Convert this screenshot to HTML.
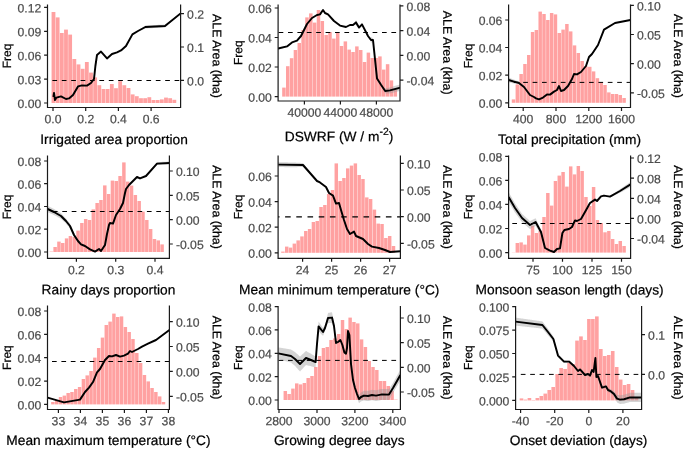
<!DOCTYPE html>
<html lang="en">
<head>
<meta charset="utf-8">
<title>ALE plots</title>
<style>
html,body{margin:0;padding:0;background:#fff;}
body{width:685px;height:450px;overflow:hidden;}
svg{display:block;}
</style>
</head>
<body>
<svg width="685" height="450" viewBox="0 0 685 450" font-family="'Liberation Sans', sans-serif">
<rect x="0" y="0" width="685" height="450" fill="#fff"/>
<g>
<clipPath id="c0"><rect x="47.5" y="4.4" width="133.1" height="103.1"/></clipPath>
<g fill="#FFA1A1">
<rect x="51.57" y="12" width="3.82" height="91"/>
<rect x="55.74" y="17.4" width="3.82" height="85.6"/>
<rect x="59.91" y="33" width="3.82" height="70"/>
<rect x="64.08" y="29.6" width="3.82" height="73.4"/>
<rect x="68.24" y="34.6" width="3.82" height="68.4"/>
<rect x="72.41" y="59" width="3.82" height="44"/>
<rect x="76.58" y="64.4" width="3.82" height="38.6"/>
<rect x="80.74" y="68.8" width="3.82" height="34.2"/>
<rect x="84.91" y="62" width="3.82" height="41"/>
<rect x="89.08" y="72.6" width="3.82" height="30.4"/>
<rect x="93.24" y="77.4" width="3.82" height="25.6"/>
<rect x="97.41" y="85.2" width="3.82" height="17.8"/>
<rect x="101.58" y="89" width="3.82" height="14"/>
<rect x="105.74" y="89" width="3.82" height="14"/>
<rect x="109.91" y="84" width="3.82" height="19"/>
<rect x="114.08" y="88.2" width="3.82" height="14.8"/>
<rect x="118.24" y="81.2" width="3.82" height="21.8"/>
<rect x="122.41" y="85.2" width="3.82" height="17.8"/>
<rect x="126.58" y="88" width="3.82" height="15"/>
<rect x="130.74" y="94.4" width="3.82" height="8.6"/>
<rect x="134.91" y="96.2" width="3.82" height="6.8"/>
<rect x="139.08" y="98.2" width="3.82" height="4.8"/>
<rect x="143.24" y="98.2" width="3.82" height="4.8"/>
<rect x="147.41" y="97.2" width="3.82" height="5.8"/>
<rect x="151.58" y="100" width="3.82" height="3"/>
<rect x="155.74" y="100" width="3.82" height="3"/>
<rect x="159.91" y="99.4" width="3.82" height="3.6"/>
<rect x="164.08" y="97.6" width="3.82" height="5.4"/>
<rect x="168.24" y="98.2" width="3.82" height="4.8"/>
<rect x="172.41" y="99.8" width="3.82" height="3.2"/>
</g>
<polygon clip-path="url(#c0)" fill="#999999" fill-opacity="0.42" points="138,30.5 138.5,30.17 139,29.83 139.5,29.5 140,29.17 140.5,28.84 141,28.5 141.5,28.17 142,27.84 142.5,27.51 143,27.17 143.5,26.84 144,26.51 144.5,26.17 145,25.84 145.5,25.56 146,25.47 146.5,25.44 147,25.42 147.5,25.39 148,25.37 148.5,25.34 149,25.32 149.5,25.29 150,25.27 150.5,25.24 151,25.21 151.5,25.19 152,25.16 152.5,25.14 153,25.11 153.5,25.09 154,25.06 154.5,25.04 155,25.01 155.5,24.98 156,24.96 156.5,24.93 157,24.91 157.5,24.88 158,24.86 158.5,24.83 159,24.81 159.5,24.78 160,24.76 160.5,24.73 161,24.7 161.5,24.68 162,24.65 162.5,24.63 163,24.6 163.5,24.58 164,24.55 164.5,24.53 165,24.5 165.5,24.13 166,23.76 166.5,23.4 167,23.03 167.5,22.66 168,22.29 168.5,21.92 169,21.55 169.5,21.19 170,20.82 170.5,20.45 171,20.08 171.5,19.71 172,19.35 172.5,18.94 173,18.54 173.5,18.13 174,17.73 174.5,17.33 175,16.92 175.5,16.52 176,16.12 176.5,15.71 177,15.31 177.5,14.9 178,14.5 178.5,14.1 179,13.69 179.5,13.29 180,12.88 180.5,12.48 180.5,14.48 180,14.88 179.5,15.29 179,15.69 178.5,16.1 178,16.5 177.5,16.9 177,17.31 176.5,17.71 176,18.12 175.5,18.52 175,18.92 174.5,19.33 174,19.73 173.5,20.13 173,20.54 172.5,20.94 172,21.35 171.5,21.79 171,22.23 170.5,22.66 170,23.1 169.5,23.54 169,23.98 168.5,24.42 168,24.86 167.5,25.3 167,25.74 166.5,26.18 166,26.62 165.5,27.06 165,27.5 164.5,27.53 164,27.55 163.5,27.58 163,27.6 162.5,27.63 162,27.65 161.5,27.68 161,27.7 160.5,27.73 160,27.76 159.5,27.78 159,27.81 158.5,27.83 158,27.86 157.5,27.88 157,27.91 156.5,27.93 156,27.96 155.5,27.98 155,28.01 154.5,28.04 154,28.06 153.5,28.09 153,28.11 152.5,28.14 152,28.16 151.5,28.19 151,28.21 150.5,28.24 150,28.27 149.5,28.29 149,28.32 148.5,28.34 148,28.37 147.5,28.39 147,28.42 146.5,28.44 146,28.47 145.5,28.43 145,28.59 144.5,28.8 144,29.01 143.5,29.21 143,29.42 142.5,29.63 142,29.84 141.5,30.05 141,30.25 140.5,30.46 140,30.67 139.5,30.88 139,31.08 138.5,31.29 138,31.5"/>
<line x1="52.4" y1="80.5" x2="180.6" y2="80.5" stroke="#000" stroke-width="1.0" stroke-dasharray="4.7 4.7"/>
<polyline clip-path="url(#c0)" fill="none" stroke="#000" stroke-width="1.95" stroke-linejoin="round" stroke-linecap="butt" points="53.4,97 54,93 55,100 56.4,97.6 61,96.4 66,99 69,98.4 73,95 78,86.4 82,85.4 87,85.6 91,83 94,79 95.4,66 97,55 101,51.6 107,58.4 112,54 117,52.4 121,50.4 126,46 132.4,34.4 138,31 145.4,27 165,26 180.6,13.4"/>
<g stroke="#1a1a1a" stroke-width="1.2" fill="none">
<path d="M47.5 4.4 V107.5 H180.6 V4.4"/>
<path d="M44.1 7.4H47.5M44.1 31.3H47.5M44.1 55.2H47.5M44.1 79.1H47.5M44.1 103H47.5M180.6 13.6H184M180.6 47H184M180.6 80.4H184M53 107.5V110.9M85.7 107.5V110.9M118.4 107.5V110.9M151.1 107.5V110.9"/>
</g>
<g fill="#4D4D4D" stroke="#4D4D4D" stroke-width="0.22" font-size="12.2">
<text transform="translate(41.3 12.47) matrix(1 0.0005 0 1 0 0)" text-anchor="end">0.12</text>
<text transform="translate(41.3 36.37) matrix(1 0.0005 0 1 0 0)" text-anchor="end">0.09</text>
<text transform="translate(41.3 60.27) matrix(1 0.0005 0 1 0 0)" text-anchor="end">0.06</text>
<text transform="translate(41.3 84.17) matrix(1 0.0005 0 1 0 0)" text-anchor="end">0.03</text>
<text transform="translate(41.3 108.07) matrix(1 0.0005 0 1 0 0)" text-anchor="end">0.00</text>
<text transform="translate(187.1 18.67) matrix(1 0.0005 0 1 0 0)">0.2</text>
<text transform="translate(187.1 52.07) matrix(1 0.0005 0 1 0 0)">0.1</text>
<text transform="translate(187.1 85.47) matrix(1 0.0005 0 1 0 0)">0.0</text>
<text transform="translate(53 123.25) matrix(1 0.0005 0 1 0 0)" text-anchor="middle">0.0</text>
<text transform="translate(85.7 123.25) matrix(1 0.0005 0 1 0 0)" text-anchor="middle">0.2</text>
<text transform="translate(118.4 123.25) matrix(1 0.0005 0 1 0 0)" text-anchor="middle">0.4</text>
<text transform="translate(151.1 123.25) matrix(1 0.0005 0 1 0 0)" text-anchor="middle">0.6</text>
</g>
<text transform="translate(114.05 144.1) matrix(1 0.0005 0 1 0 0)" text-anchor="middle" font-size="13.75" fill="#000" stroke="#000" stroke-width="0.22">Irrigated area proportion</text>
<text transform="translate(11 55.95) rotate(-90) matrix(1 0.0005 0 1 0 0)" text-anchor="middle" font-size="12.0" fill="#000" stroke="#000" stroke-width="0.22">Freq</text>
<text transform="translate(212.8 55.95) rotate(90) matrix(1 0.0005 0 1 0 0)" text-anchor="middle" font-size="12.35" fill="#000" stroke="#000" stroke-width="0.22">ALE Area (kha)</text>
</g>
<g>
<clipPath id="c1"><rect x="278.1" y="4.4" width="121.9" height="96.6"/></clipPath>
<g fill="#FFA1A1">
<rect x="282.18" y="87.6" width="3.49" height="9"/>
<rect x="286.01" y="66.2" width="3.49" height="30.4"/>
<rect x="289.86" y="58.2" width="3.49" height="38.4"/>
<rect x="293.69" y="50" width="3.49" height="46.6"/>
<rect x="297.54" y="43" width="3.49" height="53.6"/>
<rect x="301.38" y="30" width="3.49" height="66.6"/>
<rect x="305.22" y="17.4" width="3.49" height="79.2"/>
<rect x="309.06" y="13.4" width="3.49" height="83.2"/>
<rect x="312.89" y="22.6" width="3.49" height="74"/>
<rect x="316.74" y="10" width="3.49" height="86.6"/>
<rect x="320.57" y="21" width="3.49" height="75.6"/>
<rect x="324.42" y="35" width="3.49" height="61.6"/>
<rect x="328.25" y="32" width="3.49" height="64.6"/>
<rect x="332.1" y="38.6" width="3.49" height="58"/>
<rect x="335.94" y="33" width="3.49" height="63.6"/>
<rect x="339.78" y="46" width="3.49" height="50.6"/>
<rect x="343.62" y="41.4" width="3.49" height="55.2"/>
<rect x="347.45" y="49.6" width="3.49" height="47"/>
<rect x="351.3" y="52" width="3.49" height="44.6"/>
<rect x="355.13" y="46.4" width="3.49" height="50.2"/>
<rect x="358.97" y="50" width="3.49" height="46.6"/>
<rect x="362.81" y="62" width="3.49" height="34.6"/>
<rect x="366.66" y="52.6" width="3.49" height="44"/>
<rect x="370.5" y="58" width="3.49" height="38.6"/>
<rect x="374.33" y="58" width="3.49" height="38.6"/>
<rect x="378.18" y="56.4" width="3.49" height="40.2"/>
<rect x="382.01" y="69.6" width="3.49" height="27"/>
<rect x="385.85" y="64.2" width="3.49" height="32.4"/>
<rect x="389.69" y="80.4" width="3.49" height="16.2"/>
<rect x="393.54" y="90" width="3.49" height="6.6"/>
</g>
<polygon clip-path="url(#c1)" fill="#999999" fill-opacity="0.42" points="278.1,47.38 278.6,47.27 279.1,47.17 279.6,47.07 280.1,46.97 280.6,46.87 281.1,46.77 281.6,46.67 282.1,46.57 282.6,46.47 283.1,46.37 283.6,46.27 284.1,46.17 284.6,46.07 285.1,45.97 285.6,45.87 286.1,45.77 286.6,45.66 287.1,45.51 287.6,45.13 288.1,44.75 288.6,44.37 289.1,43.99 289.6,43.62 290.1,43.24 290.6,42.86 291.1,42.48 291.6,42.1 291.6,43.34 291.1,43.76 290.6,44.18 290.1,44.6 289.6,45.02 289.1,45.45 288.6,45.87 288.1,46.29 287.6,46.71 287.1,47.13 286.6,47.33 286.1,47.47 285.6,47.62 285.1,47.76 284.6,47.91 284.1,48.05 283.6,48.19 283.1,48.34 282.6,48.48 282.1,48.63 281.6,48.77 281.1,48.91 280.6,49.06 280.1,49.2 279.6,49.34 279.1,49.49 278.6,49.63 278.1,49.78"/>
<polygon clip-path="url(#c1)" fill="#999999" fill-opacity="0.42" points="353.5,24.07 354,23.28 354.5,22.5 355,21.72 355.5,20.93 356,20.15 356.5,20.67 357,21.88 357.5,23.1 358,24.32 358.5,25.53 359,26.75 359.5,26.57 359.5,27.57 359,28.45 358.5,27.93 358,27.42 357.5,26.9 357,26.38 356.5,25.87 356,24.65 355.5,24.73 355,24.82 354.5,24.9 354,24.98 353.5,25.07"/>
<polygon clip-path="url(#c1)" fill="#999999" fill-opacity="0.42" points="368.5,36.17 369,36.45 369.5,36.73 370,37.02 370.5,37.3 371,37.58 371.5,37.2 372,37.64 372.5,38.08 373,38.52 373.5,43.76 374,49 374,50.2 373.5,45.84 373,41.48 372.5,41.92 372,42.36 371.5,42.8 371,42.42 370.5,41.37 370,40.32 369.5,39.27 369,38.22 368.5,37.17"/>
<polygon clip-path="url(#c1)" fill="#999999" fill-opacity="0.42" points="381,84.3 381.5,84.83 382,85.36 382.5,85.88 383,86.41 383.5,86.94 384,87.47 384.5,88 385,88.52 385.5,88.57 386,88.3 386.5,88.19 387,88.08 387.5,87.96 388,87.85 388.5,87.74 389,87.62 389.5,87.51 390,87.4 390.5,87.22 391,87.03 391.5,86.85 392,86.66 392.5,86.53 393,86.39 393.5,86.26 394,86.12 394.5,85.99 395,85.85 395.5,85.72 396,85.58 396.5,85.45 397,85.32 397.5,85.18 398,85.05 398.5,84.91 399,84.78 399.5,84.64 400,84.51 400,90.91 399.5,91.04 399,91.18 398.5,91.31 398,91.45 397.5,91.58 397,91.72 396.5,91.85 396,91.98 395.5,92.12 395,92.25 394.5,92.39 394,92.52 393.5,92.66 393,92.79 392.5,92.93 392,93.06 391.5,93.15 391,93.23 390.5,93.32 390,93.4 389.5,93.41 389,93.43 388.5,93.44 388,93.45 387.5,93.46 387,93.48 386.5,93.49 386,93.5 385.5,93.35 385,92.88 384.5,91.94 384,90.99 383.5,90.04 383,89.09 382.5,88.14 382,87.2 381.5,86.25 381,85.3"/>
<line x1="278.6" y1="32.5" x2="400" y2="32.5" stroke="#000" stroke-width="1.0" stroke-dasharray="4.7 4.7"/>
<polyline clip-path="url(#c1)" fill="none" stroke="#000" stroke-width="1.95" stroke-linejoin="round" stroke-linecap="butt" points="278,48.6 287,46.4 292,42.4 297,40.6 301,36 307,24 312,18 317,15 320,14.4 323,10 325,13 328,14.4 334,21 340,25.6 346,27 350,25 353,25 356,22.4 359,27.6 362,24.4 368,36 371,40 373,40 377,78.4 381,84.8 385.2,91 390,90.4 400.4,87.6"/>
<g stroke="#1a1a1a" stroke-width="1.2" fill="none">
<path d="M278.1 4.4 V101 H400 V4.4"/>
<path d="M274.7 8H278.1M274.7 37.5H278.1M274.7 67H278.1M274.7 96.6H278.1M400 5.9H403.4M400 30.7H403.4M400 55.4H403.4M400 80.1H403.4M304.4 101V104.4M340.4 101V104.4M376.4 101V104.4"/>
</g>
<g fill="#4D4D4D" stroke="#4D4D4D" stroke-width="0.22" font-size="12.2">
<text transform="translate(271.9 13.07) matrix(1 0.0005 0 1 0 0)" text-anchor="end">0.06</text>
<text transform="translate(271.9 42.57) matrix(1 0.0005 0 1 0 0)" text-anchor="end">0.04</text>
<text transform="translate(271.9 72.07) matrix(1 0.0005 0 1 0 0)" text-anchor="end">0.02</text>
<text transform="translate(271.9 101.67) matrix(1 0.0005 0 1 0 0)" text-anchor="end">0.00</text>
<text transform="translate(406.5 10.97) matrix(1 0.0005 0 1 0 0)">0.08</text>
<text transform="translate(406.5 35.77) matrix(1 0.0005 0 1 0 0)">0.04</text>
<text transform="translate(406.5 60.47) matrix(1 0.0005 0 1 0 0)">0.00</text>
<text transform="translate(406.5 85.17) matrix(1 0.0005 0 1 0 0)">-0.04</text>
<text transform="translate(304.4 116.75) matrix(1 0.0005 0 1 0 0)" text-anchor="middle">40000</text>
<text transform="translate(340.4 116.75) matrix(1 0.0005 0 1 0 0)" text-anchor="middle">44000</text>
<text transform="translate(376.4 116.75) matrix(1 0.0005 0 1 0 0)" text-anchor="middle">48000</text>
</g>
<text transform="translate(339.05 141.3) matrix(1 0.0005 0 1 0 0)" text-anchor="middle" font-size="13.75" fill="#000" stroke="#000" stroke-width="0.22">DSWRF (W / m<tspan font-size="10.45" dy="-6.3">-2</tspan><tspan dy="6.3">)</tspan></text>
<text transform="translate(242.3 52.7) rotate(-90) matrix(1 0.0005 0 1 0 0)" text-anchor="middle" font-size="12.0" fill="#000" stroke="#000" stroke-width="0.22">Freq</text>
<text transform="translate(443.3 52.7) rotate(90) matrix(1 0.0005 0 1 0 0)" text-anchor="middle" font-size="12.35" fill="#000" stroke="#000" stroke-width="0.22">ALE Area (kha)</text>
</g>
<g>
<clipPath id="c2"><rect x="508.6" y="4.4" width="121.9" height="103.1"/></clipPath>
<g fill="#FFA1A1">
<rect x="511.78" y="99.4" width="3.46" height="3.4"/>
<rect x="515.59" y="84.4" width="3.46" height="18.4"/>
<rect x="519.4" y="74" width="3.46" height="28.8"/>
<rect x="523.21" y="64" width="3.46" height="38.8"/>
<rect x="527.03" y="55" width="3.46" height="47.8"/>
<rect x="530.84" y="32" width="3.46" height="70.8"/>
<rect x="534.65" y="30" width="3.46" height="72.8"/>
<rect x="538.47" y="11.6" width="3.46" height="91.2"/>
<rect x="542.28" y="14" width="3.46" height="88.8"/>
<rect x="546.1" y="20" width="3.46" height="82.8"/>
<rect x="549.91" y="13" width="3.46" height="89.8"/>
<rect x="553.72" y="14.4" width="3.46" height="88.4"/>
<rect x="557.53" y="33" width="3.46" height="69.8"/>
<rect x="561.35" y="29.6" width="3.46" height="73.2"/>
<rect x="565.16" y="24" width="3.46" height="78.8"/>
<rect x="568.97" y="31.4" width="3.46" height="71.4"/>
<rect x="572.79" y="45.4" width="3.46" height="57.4"/>
<rect x="576.6" y="53" width="3.46" height="49.8"/>
<rect x="580.41" y="61" width="3.46" height="41.8"/>
<rect x="584.23" y="66.4" width="3.46" height="36.4"/>
<rect x="588.04" y="66.8" width="3.46" height="36"/>
<rect x="591.86" y="71.4" width="3.46" height="31.4"/>
<rect x="595.67" y="78.2" width="3.46" height="24.6"/>
<rect x="599.48" y="82" width="3.46" height="20.8"/>
<rect x="603.29" y="85" width="3.46" height="17.8"/>
<rect x="607.11" y="92.4" width="3.46" height="10.4"/>
<rect x="610.92" y="94" width="3.46" height="8.8"/>
<rect x="614.73" y="94" width="3.46" height="8.8"/>
<rect x="618.55" y="95" width="3.46" height="7.8"/>
<rect x="622.36" y="98" width="3.46" height="4.8"/>
</g>
<polygon clip-path="url(#c2)" fill="#999999" fill-opacity="0.42" points="508.6,77.6 509.1,77.79 509.6,77.98 510.1,78.17 510.6,78.35 511.1,78.54 511.6,78.73 512.1,78.92 512.6,79.11 513.1,79.3 513.6,79.49 514.1,79.67 514.6,79.85 515.1,80.04 515.6,80.22 516.1,80.4 516.6,80.63 517.1,80.85 517.6,81.07 518.1,81.29 518.6,81.51 519.1,81.78 519.6,82.27 520.1,82.75 520.6,83.23 521.1,83.71 521.6,84.19 522.1,84.67 522.6,85.15 523.1,85.63 523.6,86.12 523.6,87.25 523.1,86.93 522.6,86.61 522.1,86.29 521.6,85.97 521.1,85.65 520.6,85.33 520.1,85.01 519.6,84.7 519.1,84.38 518.6,84.27 518.1,84.21 517.6,84.15 517.1,84.09 516.6,84.03 516.1,83.97 515.6,83.88 515.1,83.78 514.6,83.68 514.1,83.58 513.6,83.48 513.1,83.37 512.6,83.26 512.1,83.15 511.6,83.05 511.1,82.94 510.6,82.83 510.1,82.72 509.6,82.62 509.1,82.51 508.6,82.4"/>
<line x1="513.8" y1="82.4" x2="630.5" y2="82.4" stroke="#000" stroke-width="1.0" stroke-dasharray="4.7 4.7"/>
<polyline clip-path="url(#c2)" fill="none" stroke="#000" stroke-width="1.95" stroke-linejoin="round" stroke-linecap="butt" points="508.6,80 514,81.6 519,83 524,87 530,95 534,97 536,98.4 539,99.4 543,97.6 547,94.4 550,94.6 554,91.6 557,90 559,86 561,91 564,90 568,86 572,79 574,74 577,74.4 581,72 586,66 589,57 592,54 598,45 604,29.6 615,23 630.4,20"/>
<g stroke="#1a1a1a" stroke-width="1.2" fill="none">
<path d="M508.6 4.4 V107.5 H630.5 V4.4"/>
<path d="M505.2 20H508.6M505.2 47.5H508.6M505.2 75.1H508.6M505.2 102.8H508.6M630.5 5.4H633.9M630.5 34.5H633.9M630.5 63.6H633.9M630.5 92.8H633.9M523.2 107.5V110.9M556 107.5V110.9M588.8 107.5V110.9M621.5 107.5V110.9"/>
</g>
<g fill="#4D4D4D" stroke="#4D4D4D" stroke-width="0.22" font-size="12.2">
<text transform="translate(502.4 25.07) matrix(1 0.0005 0 1 0 0)" text-anchor="end">0.06</text>
<text transform="translate(502.4 52.57) matrix(1 0.0005 0 1 0 0)" text-anchor="end">0.04</text>
<text transform="translate(502.4 80.17) matrix(1 0.0005 0 1 0 0)" text-anchor="end">0.02</text>
<text transform="translate(502.4 107.87) matrix(1 0.0005 0 1 0 0)" text-anchor="end">0.00</text>
<text transform="translate(637 10.47) matrix(1 0.0005 0 1 0 0)">0.10</text>
<text transform="translate(637 39.57) matrix(1 0.0005 0 1 0 0)">0.05</text>
<text transform="translate(637 68.67) matrix(1 0.0005 0 1 0 0)">0.00</text>
<text transform="translate(637 97.87) matrix(1 0.0005 0 1 0 0)">-0.05</text>
<text transform="translate(523.2 123.25) matrix(1 0.0005 0 1 0 0)" text-anchor="middle">400</text>
<text transform="translate(556 123.25) matrix(1 0.0005 0 1 0 0)" text-anchor="middle">800</text>
<text transform="translate(588.8 123.25) matrix(1 0.0005 0 1 0 0)" text-anchor="middle">1200</text>
<text transform="translate(621.5 123.25) matrix(1 0.0005 0 1 0 0)" text-anchor="middle">1600</text>
</g>
<text transform="translate(569.55 144.1) matrix(1 0.0005 0 1 0 0)" text-anchor="middle" font-size="13.75" fill="#000" stroke="#000" stroke-width="0.22">Total precipitation (mm)</text>
<text transform="translate(472.3 55.95) rotate(-90) matrix(1 0.0005 0 1 0 0)" text-anchor="middle" font-size="12.0" fill="#000" stroke="#000" stroke-width="0.22">Freq</text>
<text transform="translate(674 55.95) rotate(90) matrix(1 0.0005 0 1 0 0)" text-anchor="middle" font-size="12.35" fill="#000" stroke="#000" stroke-width="0.22">ALE Area (kha)</text>
</g>
<g>
<clipPath id="c3"><rect x="47.5" y="155.6" width="121.9" height="102.8"/></clipPath>
<g fill="#FFA1A1">
<rect x="49.57" y="251.6" width="3.47" height="0.4"/>
<rect x="53.39" y="247" width="3.47" height="5"/>
<rect x="57.21" y="241.6" width="3.47" height="10.4"/>
<rect x="61.03" y="243" width="3.47" height="9"/>
<rect x="64.85" y="238.4" width="3.47" height="13.6"/>
<rect x="68.67" y="236" width="3.47" height="16"/>
<rect x="72.49" y="237" width="3.47" height="15"/>
<rect x="76.31" y="230.6" width="3.47" height="21.4"/>
<rect x="80.13" y="223" width="3.47" height="29"/>
<rect x="83.95" y="219" width="3.47" height="33"/>
<rect x="87.77" y="220" width="3.47" height="32"/>
<rect x="91.59" y="209.4" width="3.47" height="42.6"/>
<rect x="95.41" y="203" width="3.47" height="49"/>
<rect x="99.23" y="200" width="3.47" height="52"/>
<rect x="103.05" y="185.4" width="3.47" height="66.6"/>
<rect x="106.87" y="194" width="3.47" height="58"/>
<rect x="110.69" y="180.6" width="3.47" height="71.4"/>
<rect x="114.52" y="181" width="3.47" height="71"/>
<rect x="118.33" y="176" width="3.47" height="76"/>
<rect x="122.15" y="162.4" width="3.47" height="89.6"/>
<rect x="125.97" y="181.6" width="3.47" height="70.4"/>
<rect x="129.8" y="185.6" width="3.47" height="66.4"/>
<rect x="133.62" y="195" width="3.47" height="57"/>
<rect x="137.44" y="201" width="3.47" height="51"/>
<rect x="141.25" y="211.6" width="3.47" height="40.4"/>
<rect x="145.08" y="220" width="3.47" height="32"/>
<rect x="148.9" y="229" width="3.47" height="23"/>
<rect x="152.72" y="239" width="3.47" height="13"/>
<rect x="156.53" y="240.4" width="3.47" height="11.6"/>
<rect x="160.36" y="244.4" width="3.47" height="7.6"/>
</g>
<polygon clip-path="url(#c3)" fill="#999999" fill-opacity="0.42" points="47.5,205.8 48,206 48.5,206.25 49,206.5 49.5,206.75 50,207 50.5,207.26 51,207.51 51.5,207.76 52,208.01 52.5,208.26 53,208.51 53.5,208.76 54,209.01 54.5,209.31 55,209.61 55.5,209.91 56,210.21 56.5,210.52 57,210.82 57.5,211.12 58,211.42 58.5,211.72 59,212.03 59.5,212.33 60,212.63 60.5,212.93 61,213.24 61.5,213.76 62,214.28 62.5,214.8 63,215.32 63.5,215.84 64,216.36 64.5,216.88 65,217.4 65.5,217.92 66,218.44 66.5,219.09 67,219.73 67.5,220.38 68,221.02 68.5,221.66 69,222.31 69.5,222.96 70,223.6 70.5,224.78 71,225.95 71.5,227.12 72,228.3 72.5,229.47 73,230.65 73.5,231.82 74,233 74.5,233.8 75,234.6 75.5,235.4 76,236.2 76.5,237 77,237.8 77.5,238.6 78,239.4 78.5,240.04 79,240.67 79.5,241.31 80,241.94 80.5,242.58 81,243.21 81.5,243.48 82,243.75 82.5,244.02 83,244.29 83.5,244.56 84,244.82 84.5,245.09 85,245.36 85.5,245.77 86,246.18 86,247.18 85.5,246.91 85,246.64 84.5,246.51 84,246.38 83.5,246.24 83,246.11 82.5,245.98 82,245.85 81.5,245.72 81,245.59 80.5,245.09 80,244.59 79.5,244.09 79,243.6 78.5,243.1 78,242.6 77.5,241.9 77,241.2 76.5,240.5 76,239.8 75.5,239.1 75,238.4 74.5,237.7 74,237 73.5,235.93 73,234.85 72.5,233.78 72,232.7 71.5,231.62 71,230.55 70.5,229.47 70,228.4 69.5,227.79 69,227.19 68.5,226.59 68,225.98 67.5,225.38 67,224.77 66.5,224.16 66,223.56 65.5,223.08 65,222.6 64.5,222.12 64,221.64 63.5,221.16 63,220.68 62.5,220.2 62,219.72 61.5,219.24 61,218.76 60.5,218.49 60,218.23 59.5,217.96 59,217.69 58.5,217.42 58,217.15 57.5,216.88 57,216.61 56.5,216.34 56,216.07 55.5,215.8 55,215.53 54.5,215.26 54,214.99 53.5,214.77 53,214.56 52.5,214.34 52,214.12 51.5,213.9 51,213.68 50.5,213.46 50,213.25 49.5,213.03 49,212.81 48.5,212.59 48,212.37 47.5,212.2"/>
<polygon clip-path="url(#c3)" fill="#999999" fill-opacity="0.42" points="148,173.15 148.5,172.54 149,171.93 149.5,171.32 150,170.71 150.5,170.1 151,169.49 151.5,168.89 152,168.28 152.5,167.67 153,167.06 153.5,166.45 154,165.84 154.5,165.23 155,164.62 155.5,164.02 156,163.41 156.5,162.8 157,162.19 157.5,162.12 158,162.05 158.5,162.03 159,162 159.5,161.98 160,161.95 160.5,161.93 161,161.91 161.5,161.88 162,161.86 162.5,161.83 163,161.81 163.5,161.79 164,161.76 164.5,161.74 165,161.71 165.5,161.69 166,161.66 166.5,161.64 167,161.62 167.5,161.59 168,161.57 168.5,161.54 169,161.52 169,164.52 168.5,164.54 168,164.57 167.5,164.59 167,164.62 166.5,164.64 166,164.66 165.5,164.69 165,164.71 164.5,164.74 164,164.76 163.5,164.79 163,164.81 162.5,164.83 162,164.86 161.5,164.88 161,164.91 160.5,164.93 160,164.95 159.5,164.98 159,165 158.5,165.03 158,165.05 157.5,165.03 157,165.01 156.5,165.53 156,166.05 155.5,166.57 155,167.08 154.5,167.6 154,168.12 153.5,168.64 153,169.16 152.5,169.68 152,170.2 151.5,170.72 151,171.23 150.5,171.75 150,172.27 149.5,172.79 149,173.31 148.5,173.83 148,174.35"/>
<line x1="52.9" y1="211.5" x2="169.4" y2="211.5" stroke="#000" stroke-width="1.0" stroke-dasharray="4.7 4.7"/>
<polyline clip-path="url(#c3)" fill="none" stroke="#000" stroke-width="1.95" stroke-linejoin="round" stroke-linecap="butt" points="47.6,209 54,212 61,216 66,221 70,226 74,235 78,241 81,244.4 85,246 90,249.4 95,251.6 99,249 101,251 105,245 107,234 109,225 110,223 113,223.6 116,215 120,209 123,203 125,193 126,189 129,185 137,177 140,178.4 146,176 157,163.6 169.4,163"/>
<g stroke="#1a1a1a" stroke-width="1.2" fill="none">
<path d="M47.5 155.6 V258.4 H169.4 V155.6"/>
<path d="M44.1 161H47.5M44.1 183.7H47.5M44.1 206.5H47.5M44.1 229.2H47.5M44.1 252H47.5M169.4 171H172.8M169.4 195.4H172.8M169.4 219.7H172.8M169.4 244H172.8M76.4 258.4V261.8M115.7 258.4V261.8M155 258.4V261.8"/>
</g>
<g fill="#4D4D4D" stroke="#4D4D4D" stroke-width="0.22" font-size="12.2">
<text transform="translate(41.3 166.07) matrix(1 0.0005 0 1 0 0)" text-anchor="end">0.08</text>
<text transform="translate(41.3 188.77) matrix(1 0.0005 0 1 0 0)" text-anchor="end">0.06</text>
<text transform="translate(41.3 211.57) matrix(1 0.0005 0 1 0 0)" text-anchor="end">0.04</text>
<text transform="translate(41.3 234.27) matrix(1 0.0005 0 1 0 0)" text-anchor="end">0.02</text>
<text transform="translate(41.3 257.07) matrix(1 0.0005 0 1 0 0)" text-anchor="end">0.00</text>
<text transform="translate(175.9 176.07) matrix(1 0.0005 0 1 0 0)">0.10</text>
<text transform="translate(175.9 200.47) matrix(1 0.0005 0 1 0 0)">0.05</text>
<text transform="translate(175.9 224.77) matrix(1 0.0005 0 1 0 0)">0.00</text>
<text transform="translate(175.9 249.07) matrix(1 0.0005 0 1 0 0)">-0.05</text>
<text transform="translate(76.4 274.15) matrix(1 0.0005 0 1 0 0)" text-anchor="middle">0.2</text>
<text transform="translate(115.7 274.15) matrix(1 0.0005 0 1 0 0)" text-anchor="middle">0.3</text>
<text transform="translate(155 274.15) matrix(1 0.0005 0 1 0 0)" text-anchor="middle">0.4</text>
</g>
<text transform="translate(108.45 294.4) matrix(1 0.0005 0 1 0 0)" text-anchor="middle" font-size="13.75" fill="#000" stroke="#000" stroke-width="0.22">Rainy days proportion</text>
<text transform="translate(11 207) rotate(-90) matrix(1 0.0005 0 1 0 0)" text-anchor="middle" font-size="12.0" fill="#000" stroke="#000" stroke-width="0.22">Freq</text>
<text transform="translate(212.8 207) rotate(90) matrix(1 0.0005 0 1 0 0)" text-anchor="middle" font-size="12.35" fill="#000" stroke="#000" stroke-width="0.22">ALE Area (kha)</text>
</g>
<g>
<clipPath id="c4"><rect x="278.1" y="155.6" width="122.3" height="102.8"/></clipPath>
<g fill="#FFA1A1">
<rect x="281.18" y="251.6" width="3.46" height="1.2"/>
<rect x="284.99" y="246.6" width="3.46" height="6.2"/>
<rect x="288.8" y="247.6" width="3.46" height="5.2"/>
<rect x="292.62" y="243.6" width="3.46" height="9.2"/>
<rect x="296.43" y="240.4" width="3.46" height="12.4"/>
<rect x="300.24" y="236.4" width="3.46" height="16.4"/>
<rect x="304.06" y="231" width="3.46" height="21.8"/>
<rect x="307.87" y="229" width="3.46" height="23.8"/>
<rect x="311.68" y="222" width="3.46" height="30.8"/>
<rect x="315.5" y="221" width="3.46" height="31.8"/>
<rect x="319.31" y="207" width="3.46" height="45.8"/>
<rect x="323.12" y="205" width="3.46" height="47.8"/>
<rect x="326.94" y="194" width="3.46" height="58.8"/>
<rect x="330.75" y="190" width="3.46" height="62.8"/>
<rect x="334.56" y="163.4" width="3.46" height="89.4"/>
<rect x="338.38" y="181" width="3.46" height="71.8"/>
<rect x="342.19" y="178" width="3.46" height="74.8"/>
<rect x="346" y="168.4" width="3.46" height="84.4"/>
<rect x="349.81" y="165.6" width="3.46" height="87.2"/>
<rect x="353.63" y="163.4" width="3.46" height="89.4"/>
<rect x="357.44" y="175" width="3.46" height="77.8"/>
<rect x="361.25" y="179" width="3.46" height="73.8"/>
<rect x="365.07" y="197.4" width="3.46" height="55.4"/>
<rect x="368.88" y="199" width="3.46" height="53.8"/>
<rect x="372.69" y="209.6" width="3.46" height="43.2"/>
<rect x="376.51" y="223.6" width="3.46" height="29.2"/>
<rect x="380.32" y="224" width="3.46" height="28.8"/>
<rect x="384.13" y="238" width="3.46" height="14.8"/>
<rect x="387.95" y="236" width="3.46" height="16.8"/>
<rect x="391.76" y="246" width="3.46" height="6.8"/>
</g>
<polygon clip-path="url(#c4)" fill="#999999" fill-opacity="0.42" points="278.1,162.1 278.6,162.11 279.1,162.13 279.6,162.14 280.1,162.15 280.6,162.17 281.1,162.18 281.6,162.2 282.1,162.21 282.6,162.22 283.1,162.24 283.6,162.25 284.1,162.27 284.6,162.28 285.1,162.29 285.6,162.31 286.1,162.32 286.6,162.34 287.1,162.35 287.6,162.36 288.1,162.38 288.6,162.39 289.1,162.41 289.6,162.42 290.1,162.43 290.6,162.45 291.1,162.46 291.6,162.48 292.1,162.49 292.6,162.5 293.1,162.52 293.6,162.53 294.1,162.55 294.6,162.56 295.1,162.58 295.6,162.6 296.1,162.63 296.6,162.66 297.1,162.68 297.6,162.71 298.1,162.74 298.6,162.76 299.1,162.79 299.6,162.82 300.1,162.84 300.6,162.87 301.1,162.9 301.6,162.92 302.1,162.95 302.6,162.98 303.1,163.13 303.6,163.79 304.1,164.44 304.6,165.1 305.1,165.75 305.6,166.4 306.1,167.06 306.6,167.71 307.1,168.37 307.6,169.02 308.1,169.68 308.6,170.33 309.1,170.99 309.6,171.64 310.1,172.3 310.6,172.95 311.1,173.61 311.6,174.26 311.6,175.4 311.1,174.91 310.6,174.42 310.1,173.93 309.6,173.44 309.1,172.95 308.6,172.47 308.1,171.98 307.6,171.49 307.1,171 306.6,170.51 306.1,170.03 305.6,169.54 305.1,169.05 304.6,168.56 304.1,168.07 303.6,167.59 303.1,167.1 302.6,167.01 302.1,167.02 301.6,167.03 301.1,167.04 300.6,167.05 300.1,167.06 299.6,167.07 299.1,167.08 298.6,167.09 298.1,167.1 297.6,167.12 297.1,167.13 296.6,167.14 296.1,167.15 295.6,167.16 295.1,167.17 294.6,167.17 294.1,167.17 293.6,167.16 293.1,167.16 292.6,167.16 292.1,167.16 291.6,167.16 291.1,167.15 290.6,167.15 290.1,167.15 289.6,167.15 289.1,167.15 288.6,167.14 288.1,167.14 287.6,167.14 287.1,167.14 286.6,167.13 286.1,167.13 285.6,167.13 285.1,167.13 284.6,167.13 284.1,167.12 283.6,167.12 283.1,167.12 282.6,167.12 282.1,167.12 281.6,167.11 281.1,167.11 280.6,167.11 280.1,167.11 279.6,167.1 279.1,167.1 278.6,167.1 278.1,167.1"/>
<line clip-path="url(#c4)" x1="273.9" y1="216.9" x2="400.4" y2="216.9" stroke="#000" stroke-width="1.25" stroke-dasharray="5.6 5.6"/>
<polyline clip-path="url(#c4)" fill="none" stroke="#000" stroke-width="1.95" stroke-linejoin="round" stroke-linecap="butt" points="278.2,164.6 303,165 310,173 317,181 320,182.4 326,187 329,193 333,195.6 336,203.6 339,203 341,210 344,220 347,229 350,234 354,231.6 356,236 363,239 368,244 372,246.6 379,248 385,250 390,252 400.4,251.2"/>
<g stroke="#1a1a1a" stroke-width="1.2" fill="none">
<path d="M278.1 155.6 V258.4 H400.4 V155.6"/>
<path d="M274.7 176H278.1M274.7 201.6H278.1M274.7 227.2H278.1M274.7 252.8H278.1M400.4 163.4H403.8M400.4 190H403.8M400.4 216.6H403.8M400.4 243.4H403.8M302.6 258.4V261.8M331.6 258.4V261.8M360.6 258.4V261.8M389.6 258.4V261.8"/>
</g>
<g fill="#4D4D4D" stroke="#4D4D4D" stroke-width="0.22" font-size="12.2">
<text transform="translate(271.9 181.07) matrix(1 0.0005 0 1 0 0)" text-anchor="end">0.06</text>
<text transform="translate(271.9 206.67) matrix(1 0.0005 0 1 0 0)" text-anchor="end">0.04</text>
<text transform="translate(271.9 232.27) matrix(1 0.0005 0 1 0 0)" text-anchor="end">0.02</text>
<text transform="translate(271.9 257.87) matrix(1 0.0005 0 1 0 0)" text-anchor="end">0.00</text>
<text transform="translate(406.9 168.47) matrix(1 0.0005 0 1 0 0)">0.10</text>
<text transform="translate(406.9 195.07) matrix(1 0.0005 0 1 0 0)">0.05</text>
<text transform="translate(406.9 221.67) matrix(1 0.0005 0 1 0 0)">0.00</text>
<text transform="translate(406.9 248.47) matrix(1 0.0005 0 1 0 0)">-0.05</text>
<text transform="translate(302.6 274.15) matrix(1 0.0005 0 1 0 0)" text-anchor="middle">24</text>
<text transform="translate(331.6 274.15) matrix(1 0.0005 0 1 0 0)" text-anchor="middle">25</text>
<text transform="translate(360.6 274.15) matrix(1 0.0005 0 1 0 0)" text-anchor="middle">26</text>
<text transform="translate(389.6 274.15) matrix(1 0.0005 0 1 0 0)" text-anchor="middle">27</text>
</g>
<text transform="translate(339.25 294.4) matrix(1 0.0005 0 1 0 0)" text-anchor="middle" font-size="13.75" fill="#000" stroke="#000" stroke-width="0.22">Mean minimum temperature (°C)</text>
<text transform="translate(242.3 207) rotate(-90) matrix(1 0.0005 0 1 0 0)" text-anchor="middle" font-size="12.0" fill="#000" stroke="#000" stroke-width="0.22">Freq</text>
<text transform="translate(443.3 207) rotate(90) matrix(1 0.0005 0 1 0 0)" text-anchor="middle" font-size="12.35" fill="#000" stroke="#000" stroke-width="0.22">ALE Area (kha)</text>
</g>
<g>
<clipPath id="c5"><rect x="508.6" y="155.6" width="122" height="102.8"/></clipPath>
<g fill="#FFA1A1">
<rect x="511.78" y="252.4" width="3.46" height="0.2"/>
<rect x="515.59" y="243" width="3.46" height="9.6"/>
<rect x="519.4" y="242.4" width="3.46" height="10.2"/>
<rect x="523.21" y="244.6" width="3.46" height="8"/>
<rect x="527.03" y="235.4" width="3.46" height="17.2"/>
<rect x="530.84" y="225.6" width="3.46" height="27"/>
<rect x="534.65" y="233" width="3.46" height="19.6"/>
<rect x="538.47" y="230.7" width="3.46" height="21.9"/>
<rect x="542.28" y="217" width="3.46" height="35.6"/>
<rect x="546.1" y="193" width="3.46" height="59.6"/>
<rect x="549.91" y="205.6" width="3.46" height="47"/>
<rect x="553.72" y="181" width="3.46" height="71.6"/>
<rect x="557.53" y="175.6" width="3.46" height="77"/>
<rect x="561.35" y="172" width="3.46" height="80.6"/>
<rect x="565.16" y="186.6" width="3.46" height="66"/>
<rect x="568.97" y="166.4" width="3.46" height="86.2"/>
<rect x="572.79" y="174.4" width="3.46" height="78.2"/>
<rect x="576.6" y="166" width="3.46" height="86.6"/>
<rect x="580.41" y="171" width="3.46" height="81.6"/>
<rect x="584.23" y="197" width="3.46" height="55.6"/>
<rect x="588.04" y="206" width="3.46" height="46.6"/>
<rect x="591.86" y="187" width="3.46" height="65.6"/>
<rect x="595.67" y="220" width="3.46" height="32.6"/>
<rect x="599.48" y="223" width="3.46" height="29.6"/>
<rect x="603.29" y="232.3" width="3.46" height="20.3"/>
<rect x="607.11" y="231" width="3.46" height="21.6"/>
<rect x="610.92" y="239" width="3.46" height="13.6"/>
<rect x="614.73" y="244" width="3.46" height="8.6"/>
<rect x="618.55" y="241" width="3.46" height="11.6"/>
<rect x="622.36" y="246" width="3.46" height="6.6"/>
</g>
<polygon clip-path="url(#c5)" fill="#999999" fill-opacity="0.42" points="508.6,192 509.1,192.89 509.6,193.79 510.1,194.68 510.6,195.58 511.1,196.47 511.6,197.37 512.1,198.26 512.6,199.16 513.1,200.05 513.6,200.94 514.1,201.84 514.6,202.73 515.1,203.6 515.6,204.35 516.1,205.1 516.6,205.85 517.1,206.6 517.6,207.35 518.1,208.1 518.6,208.84 519.1,209.59 519.6,210.34 520.1,211.09 520.6,211.81 521.1,212.54 521.6,213.26 522.1,213.93 522.6,214.38 523.1,214.82 523.6,215.27 524.1,215.72 524.6,216.17 525.1,216.61 525.6,217.06 526.1,217.51 526.6,217.96 527.1,218.4 527.6,218.85 528.1,219.3 528.6,219.75 529.1,220.19 529.6,220.64 530.1,220.95 530.6,220.7 531.1,220.45 531.6,220.2 532.1,219.94 532.6,219.69 533.1,219.44 533.6,219.19 534.1,218.94 534.6,218.69 535.1,218.44 535.6,218.19 536.1,219.16 536.6,220.27 537.1,221.37 537.6,222.48 538.1,223.59 538.6,224.69 539.1,225.8 539.6,226.9 540.1,228.01 540.6,229.12 541.1,230.43 541.6,232.58 542.1,234.73 542.6,236.88 543.1,239.03 543.6,241.18 544.1,243.33 544.6,245.48 545.1,247.28 545.6,247.69 545.6,248.93 545.1,248.82 544.6,247.32 544.1,245.47 543.6,243.62 543.1,241.77 542.6,239.92 542.1,238.07 541.6,236.22 541.1,234.37 540.6,233.4 540.1,232.66 539.6,231.91 539.1,231.17 538.6,230.42 538.1,229.67 537.6,228.93 537.1,228.18 536.6,227.44 536.1,226.69 535.6,225.81 535.1,226.1 534.6,226.38 534.1,226.67 533.6,226.95 533.1,227.24 532.6,227.52 532.1,227.81 531.6,228.09 531.1,228.37 530.6,228.66 530.1,228.94 529.6,228.66 529.1,228.23 528.6,227.8 528.1,227.38 527.6,226.95 527.1,226.52 526.6,226.09 526.1,225.67 525.6,225.24 525.1,224.81 524.6,224.38 524.1,223.96 523.6,223.53 523.1,223.1 522.6,222.67 522.1,222.25 521.6,221.6 521.1,220.89 520.6,220.19 520.1,219.48 519.6,218.8 519.1,218.12 518.6,217.44 518.1,216.76 517.6,216.08 517.1,215.4 516.6,214.72 516.1,214.05 515.6,213.37 515.1,212.69 514.6,211.89 514.1,211.07 513.6,210.24 513.1,209.42 512.6,208.59 512.1,207.77 511.6,206.95 511.1,206.12 510.6,205.3 510.1,204.47 509.6,203.65 509.1,202.82 508.6,202"/>
<polygon clip-path="url(#c5)" fill="#999999" fill-opacity="0.42" points="608,195.77 608.5,195.8 609,195.83 609.5,195.85 610,195.88 610.5,195.55 611,195.22 611.5,194.88 612,194.55 612.5,194.21 613,193.88 613.5,193.54 614,193.21 614.5,192.88 615,192.54 615.5,192.21 616,191.87 616.5,191.54 617,191.21 617.5,190.87 618,190.54 618.5,190.2 619,189.87 619.5,189.53 620,189.2 620.5,188.85 621,188.5 621.5,188.15 622,187.8 622.5,187.45 623,187.11 623.5,186.76 624,186.41 624.5,186.06 625,185.71 625.5,185.36 626,185.01 626.5,184.66 627,184.31 627.5,183.96 628,183.62 628.5,183.27 629,182.92 629.5,182.57 630,182.22 630.5,181.87 630.5,187.05 630,187.33 629.5,187.6 629,187.88 628.5,188.15 628,188.42 627.5,188.7 627,188.97 626.5,189.24 626,189.52 625.5,189.79 625,190.06 624.5,190.34 624,190.61 623.5,190.88 623,191.16 622.5,191.43 622,191.71 621.5,191.98 621,192.25 620.5,192.53 620,192.8 619.5,193.03 619,193.25 618.5,193.48 618,193.7 617.5,193.93 617,194.16 616.5,194.38 616,194.61 615.5,194.83 615,195.06 614.5,195.28 614,195.51 613.5,195.74 613,195.96 612.5,196.19 612,196.41 611.5,196.64 611,196.86 610.5,197.09 610,197.32 609.5,197.18 609,197.04 608.5,196.9 608,196.77"/>
<line x1="512.3" y1="223.5" x2="630.6" y2="223.5" stroke="#000" stroke-width="1.0" stroke-dasharray="4.7 4.7"/>
<polyline clip-path="url(#c5)" fill="none" stroke="#000" stroke-width="1.95" stroke-linejoin="round" stroke-linecap="butt" points="508.6,197 515,208 522,218 530,225 535.6,222 541,232 545,248 550,250.6 554,252 557,249 560,248.4 562.4,233 564.4,230 569,229 572,227 575,220.4 577,221 581,219 585,212 590,203 595,199.6 597,201 601,196.4 604,195.6 610,196.6 620,191 630.6,184.4"/>
<g stroke="#1a1a1a" stroke-width="1.2" fill="none">
<path d="M508.6 155.6 V258.4 H630.6 V155.6"/>
<path d="M505.2 156.4H508.6M505.2 180.4H508.6M505.2 204.4H508.6M505.2 228.5H508.6M505.2 252.6H508.6M630.6 158H634M630.6 178.2H634M630.6 198.3H634M630.6 218.4H634M630.6 238.5H634M533 258.4V261.8M562.5 258.4V261.8M592 258.4V261.8M621.5 258.4V261.8"/>
</g>
<g fill="#4D4D4D" stroke="#4D4D4D" stroke-width="0.22" font-size="12.2">
<text transform="translate(502.4 161.47) matrix(1 0.0005 0 1 0 0)" text-anchor="end">0.08</text>
<text transform="translate(502.4 185.47) matrix(1 0.0005 0 1 0 0)" text-anchor="end">0.06</text>
<text transform="translate(502.4 209.47) matrix(1 0.0005 0 1 0 0)" text-anchor="end">0.04</text>
<text transform="translate(502.4 233.57) matrix(1 0.0005 0 1 0 0)" text-anchor="end">0.02</text>
<text transform="translate(502.4 257.67) matrix(1 0.0005 0 1 0 0)" text-anchor="end">0.00</text>
<text transform="translate(637.1 163.07) matrix(1 0.0005 0 1 0 0)">0.12</text>
<text transform="translate(637.1 183.27) matrix(1 0.0005 0 1 0 0)">0.08</text>
<text transform="translate(637.1 203.37) matrix(1 0.0005 0 1 0 0)">0.04</text>
<text transform="translate(637.1 223.47) matrix(1 0.0005 0 1 0 0)">0.00</text>
<text transform="translate(637.1 243.57) matrix(1 0.0005 0 1 0 0)">-0.04</text>
<text transform="translate(533 274.15) matrix(1 0.0005 0 1 0 0)" text-anchor="middle">75</text>
<text transform="translate(562.5 274.15) matrix(1 0.0005 0 1 0 0)" text-anchor="middle">100</text>
<text transform="translate(592 274.15) matrix(1 0.0005 0 1 0 0)" text-anchor="middle">125</text>
<text transform="translate(621.5 274.15) matrix(1 0.0005 0 1 0 0)" text-anchor="middle">150</text>
</g>
<text transform="translate(569.6 294.4) matrix(1 0.0005 0 1 0 0)" text-anchor="middle" font-size="13.75" fill="#000" stroke="#000" stroke-width="0.22">Monsoon season length (days)</text>
<text transform="translate(472.3 207) rotate(-90) matrix(1 0.0005 0 1 0 0)" text-anchor="middle" font-size="12.0" fill="#000" stroke="#000" stroke-width="0.22">Freq</text>
<text transform="translate(674 207) rotate(90) matrix(1 0.0005 0 1 0 0)" text-anchor="middle" font-size="12.35" fill="#000" stroke="#000" stroke-width="0.22">ALE Area (kha)</text>
</g>
<g>
<clipPath id="c6"><rect x="47.5" y="305.6" width="121.9" height="103.9"/></clipPath>
<g fill="#FFA1A1">
<rect x="51.17" y="402" width="3.46" height="2.4"/>
<rect x="54.99" y="400" width="3.46" height="4.4"/>
<rect x="58.8" y="397" width="3.46" height="7.4"/>
<rect x="62.61" y="395.6" width="3.46" height="8.8"/>
<rect x="66.43" y="393" width="3.46" height="11.4"/>
<rect x="70.24" y="392" width="3.46" height="12.4"/>
<rect x="74.05" y="389" width="3.46" height="15.4"/>
<rect x="77.87" y="387" width="3.46" height="17.4"/>
<rect x="81.68" y="379" width="3.46" height="25.4"/>
<rect x="85.49" y="375.4" width="3.46" height="29"/>
<rect x="89.31" y="371" width="3.46" height="33.4"/>
<rect x="93.12" y="357.6" width="3.46" height="46.8"/>
<rect x="96.94" y="348" width="3.46" height="56.4"/>
<rect x="100.75" y="337.6" width="3.46" height="66.8"/>
<rect x="104.56" y="325" width="3.46" height="79.4"/>
<rect x="108.38" y="321.6" width="3.46" height="82.8"/>
<rect x="112.19" y="313.6" width="3.46" height="90.8"/>
<rect x="116" y="317" width="3.46" height="87.4"/>
<rect x="119.81" y="316.4" width="3.46" height="88"/>
<rect x="123.63" y="327" width="3.46" height="77.4"/>
<rect x="127.44" y="332" width="3.46" height="72.4"/>
<rect x="131.25" y="339" width="3.46" height="65.4"/>
<rect x="135.07" y="353" width="3.46" height="51.4"/>
<rect x="138.88" y="363" width="3.46" height="41.4"/>
<rect x="142.7" y="375" width="3.46" height="29.4"/>
<rect x="146.51" y="381.4" width="3.46" height="23"/>
<rect x="150.32" y="388" width="3.46" height="16.4"/>
<rect x="154.14" y="392" width="3.46" height="12.4"/>
<rect x="157.95" y="396.4" width="3.46" height="8"/>
<rect x="161.76" y="402" width="3.46" height="2.4"/>
</g>
<line x1="52" y1="361.5" x2="169.4" y2="361.5" stroke="#000" stroke-width="1.0" stroke-dasharray="4.7 4.7"/>
<polyline clip-path="url(#c6)" fill="none" stroke="#000" stroke-width="1.95" stroke-linejoin="round" stroke-linecap="butt" points="47.6,397.6 64,402.4 80,399.6 85,392 89,387.6 93,382 97,372.4 100,369 105,360 109,356 112,356.4 116,355 120,356.6 124,355.6 128,353.6 130,351 132,352 138,349 142,346.6 148,343.6 156,340 169.4,330"/>
<g stroke="#1a1a1a" stroke-width="1.2" fill="none">
<path d="M47.5 305.6 V409.5 H169.4 V305.6"/>
<path d="M44.1 311H47.5M44.1 334.35H47.5M44.1 357.7H47.5M44.1 381.05H47.5M44.1 404.4H47.5M169.4 321.6H172.8M169.4 346.5H172.8M169.4 371.4H172.8M169.4 396.3H172.8M58.4 409.5V412.9M80.4 409.5V412.9M102.4 409.5V412.9M124.4 409.5V412.9M146.4 409.5V412.9M168.4 409.5V412.9"/>
</g>
<g fill="#4D4D4D" stroke="#4D4D4D" stroke-width="0.22" font-size="12.2">
<text transform="translate(41.3 316.07) matrix(1 0.0005 0 1 0 0)" text-anchor="end">0.08</text>
<text transform="translate(41.3 339.42) matrix(1 0.0005 0 1 0 0)" text-anchor="end">0.06</text>
<text transform="translate(41.3 362.77) matrix(1 0.0005 0 1 0 0)" text-anchor="end">0.04</text>
<text transform="translate(41.3 386.12) matrix(1 0.0005 0 1 0 0)" text-anchor="end">0.02</text>
<text transform="translate(41.3 409.47) matrix(1 0.0005 0 1 0 0)" text-anchor="end">0.00</text>
<text transform="translate(175.9 326.67) matrix(1 0.0005 0 1 0 0)">0.10</text>
<text transform="translate(175.9 351.57) matrix(1 0.0005 0 1 0 0)">0.05</text>
<text transform="translate(175.9 376.47) matrix(1 0.0005 0 1 0 0)">0.00</text>
<text transform="translate(175.9 401.37) matrix(1 0.0005 0 1 0 0)">-0.05</text>
<text transform="translate(58.4 425.25) matrix(1 0.0005 0 1 0 0)" text-anchor="middle">33</text>
<text transform="translate(80.4 425.25) matrix(1 0.0005 0 1 0 0)" text-anchor="middle">34</text>
<text transform="translate(102.4 425.25) matrix(1 0.0005 0 1 0 0)" text-anchor="middle">35</text>
<text transform="translate(124.4 425.25) matrix(1 0.0005 0 1 0 0)" text-anchor="middle">36</text>
<text transform="translate(146.4 425.25) matrix(1 0.0005 0 1 0 0)" text-anchor="middle">37</text>
<text transform="translate(168.4 425.25) matrix(1 0.0005 0 1 0 0)" text-anchor="middle">38</text>
</g>
<text transform="translate(108.45 445) matrix(1 0.0005 0 1 0 0)" text-anchor="middle" font-size="13.75" fill="#000" stroke="#000" stroke-width="0.22">Mean maximum temperature (°C)</text>
<text transform="translate(11 357.55) rotate(-90) matrix(1 0.0005 0 1 0 0)" text-anchor="middle" font-size="12.0" fill="#000" stroke="#000" stroke-width="0.22">Freq</text>
<text transform="translate(212.8 357.55) rotate(90) matrix(1 0.0005 0 1 0 0)" text-anchor="middle" font-size="12.35" fill="#000" stroke="#000" stroke-width="0.22">ALE Area (kha)</text>
</g>
<g>
<clipPath id="c7"><rect x="278.1" y="306" width="122.3" height="103.5"/></clipPath>
<g fill="#FFA1A1">
<rect x="283.57" y="391" width="3.46" height="9"/>
<rect x="287.39" y="394" width="3.46" height="6"/>
<rect x="291.2" y="388.6" width="3.46" height="11.4"/>
<rect x="295.01" y="383.4" width="3.46" height="16.6"/>
<rect x="298.83" y="384.4" width="3.46" height="15.6"/>
<rect x="302.64" y="383" width="3.46" height="17"/>
<rect x="306.45" y="378" width="3.46" height="22"/>
<rect x="310.27" y="376" width="3.46" height="24"/>
<rect x="314.08" y="367" width="3.46" height="33"/>
<rect x="317.89" y="356" width="3.46" height="44"/>
<rect x="321.71" y="348" width="3.46" height="52"/>
<rect x="325.52" y="347" width="3.46" height="53"/>
<rect x="329.33" y="340" width="3.46" height="60"/>
<rect x="333.15" y="338.4" width="3.46" height="61.6"/>
<rect x="336.96" y="334" width="3.46" height="66"/>
<rect x="340.78" y="320" width="3.46" height="80"/>
<rect x="344.59" y="329" width="3.46" height="71"/>
<rect x="348.4" y="317.6" width="3.46" height="82.4"/>
<rect x="352.21" y="322" width="3.46" height="78"/>
<rect x="356.03" y="323.4" width="3.46" height="76.6"/>
<rect x="359.84" y="339.4" width="3.46" height="60.6"/>
<rect x="363.66" y="347" width="3.46" height="53"/>
<rect x="367.47" y="361" width="3.46" height="39"/>
<rect x="371.28" y="367" width="3.46" height="33"/>
<rect x="375.1" y="370" width="3.46" height="30"/>
<rect x="378.91" y="381" width="3.46" height="19"/>
<rect x="382.72" y="381" width="3.46" height="19"/>
<rect x="386.54" y="386" width="3.46" height="14"/>
<rect x="390.35" y="391" width="3.46" height="9"/>
<rect x="394.16" y="399.6" width="3.46" height="0.4"/>
</g>
<polygon clip-path="url(#c7)" fill="#999999" fill-opacity="0.42" points="278.1,347.4 278.6,347.46 279.1,347.54 279.6,347.63 280.1,347.71 280.6,347.79 281.1,347.87 281.6,347.95 282.1,348.04 282.6,348.12 283.1,348.2 283.6,348.28 284.1,348.37 284.6,348.45 285.1,348.53 285.6,348.61 286.1,348.69 286.6,348.78 287.1,348.86 287.6,348.94 288.1,349.02 288.6,349.11 289.1,349.19 289.6,349.27 290.1,349.35 290.6,349.43 291.1,349.56 291.6,349.88 292.1,350.2 292.6,350.52 293.1,350.84 293.6,351.16 294.1,351.48 294.6,351.8 295.1,352.14 295.6,352.59 296.1,353.03 296.6,353.48 297.1,353.92 297.6,354.37 298.1,354.81 298.6,355.26 299.1,355.7 299.6,356.14 300.1,356.41 300.6,355.95 301.1,355.49 301.6,355.03 302.1,354.57 302.6,354.12 303.1,353.66 303.6,353.2 304.1,352.74 304.6,352.28 305.1,351.82 305.6,351.37 306.1,351.06 306.6,351.33 307.1,351.61 307.6,351.89 308.1,352.17 308.6,352.45 309.1,352.73 309.6,353.01 310.1,353.29 310.6,353.57 311.1,353.85 311.6,354.15 312.1,354.44 312.6,354.74 313.1,355.03 313.6,355.33 314.1,355.63 314.6,355.92 315.1,356.22 315.6,356.67 316.1,351.07 316.6,345.48 317.1,339.77 317.6,333.6 318.1,327.43 318.6,321.42 319.1,322.17 319.6,322.92 320.1,323.66 320.6,324.41 321.1,325.16 321.6,325.91 322.1,326.65 322.6,327.4 323.1,327.85 323.6,327.1 324.1,326.35 324.6,325.6 325.1,324.72 325.6,323.3 326.1,321.71 326.6,319.42 327.1,317.12 327.6,314.83 328.1,312.98 328.6,312.87 329.1,312.75 329.6,312.64 330.1,312.53 330.6,312.42 331.1,312.3 331.6,312.19 332.1,312.64 332.6,315.32 333.1,318 333.6,320.69 334.1,323.8 334.6,328.63 335.1,333.38 335.6,337.8 336.1,341.32 336.6,341.23 337.1,341.15 337.6,341.07 338.1,340.92 338.6,340.5 339.1,340.08 339.6,339.67 340.1,339.25 340.6,339.5 341.1,340.75 341.6,342 342.1,343.25 342.6,344.74 343.1,346.59 343.6,348.44 344.1,350.29 344.6,351.55 345.1,351.93 345.6,352.3 346.1,352.04 346.6,349.24 347.1,345.3 347.6,336.8 348.1,330.29 348.6,331.71 349.1,333.14 349.6,337.63 349.6,339.63 349.1,335.14 348.6,333.71 348.1,332.29 347.6,338.8 347.1,347.3 346.6,351.24 346.1,354.04 345.6,354.3 345.1,353.93 344.6,353.55 344.1,352.29 343.6,350.44 343.1,348.59 342.6,346.74 342.1,345.25 341.6,344 341.1,342.75 340.6,341.5 340.1,341.25 339.6,341.67 339.1,342.08 338.6,342.5 338.1,342.92 337.6,343.33 337.1,343.75 336.6,344.17 336.1,344.58 335.6,341.4 335.1,337.32 334.6,333.57 334.1,329.9 333.6,327.95 333.1,326.44 332.6,324.92 332.1,323.4 331.6,323.09 331.1,323.08 330.6,323.06 330.1,323.05 329.6,323.04 329.1,323.03 328.6,323.01 328.1,323 327.6,323.83 327.1,324.88 326.6,325.92 326.1,326.96 325.6,328.7 325.1,330.62 324.6,332 324.1,333.25 323.6,334.5 323.1,335.75 322.6,335.58 322.1,335.05 321.6,334.53 321.1,334 320.6,333.48 320.1,332.95 319.6,332.43 319.1,331.9 318.6,331.38 318.1,336.37 317.6,341.2 317.1,346.03 316.6,352.81 316.1,360.07 315.6,367.33 315.1,367.35 314.6,367.21 314.1,367.07 313.6,366.93 313.1,366.79 312.6,366.65 312.1,366.52 311.6,366.38 311.1,366.24 310.6,366.11 310.1,365.99 309.6,365.87 309.1,365.75 308.6,365.63 308.1,365.51 307.6,365.39 307.1,365.27 306.6,365.15 306.1,365.02 305.6,365.43 305.1,365.97 304.6,366.52 304.1,367.06 303.6,367.6 303.1,368.14 302.6,368.68 302.1,369.22 301.6,369.77 301.1,370.31 300.6,370.85 300.1,371.39 299.6,371.06 299.1,370.5 298.6,369.94 298.1,369.39 297.6,368.83 297.1,368.28 296.6,367.72 296.1,367.17 295.6,366.61 295.1,366.06 294.6,365.6 294.1,365.17 293.6,364.74 293.1,364.31 292.6,363.88 292.1,363.45 291.6,363.02 291.1,362.59 290.6,362.4 290.1,362.28 289.6,362.16 289.1,362.04 288.6,361.92 288.1,361.8 287.6,361.68 287.1,361.56 286.6,361.44 286.1,361.31 285.6,361.19 285.1,361.07 284.6,360.95 284.1,360.83 283.6,360.71 283.1,360.59 282.6,360.47 282.1,360.35 281.6,360.23 281.1,360.11 280.6,359.98 280.1,359.86 279.6,359.74 279.1,359.62 278.6,359.5 278.1,359.4"/>
<polygon clip-path="url(#c7)" fill="#999999" fill-opacity="0.42" points="355,387 355.5,388 356,389 356.5,390 357,391 357.5,391.75 358,392.5 358.5,393.68 359,394.86 359.5,394.29 360,393.71 360.5,393.14 361,392.57 361.5,392.27 362,391.96 362.5,391.66 363,391.35 363.5,391.05 364,390.74 364.5,390.72 365,390.7 365.5,390.73 366,390.77 366.5,390.8 367,390.83 367.5,390.87 368,390.9 368.5,390.76 369,390.62 369.5,390.48 370,390.33 370.5,390.19 371,390.05 371.5,389.91 372,389.77 372.5,389.82 373,389.88 373.5,389.94 374,390 374.5,390.06 375,390.12 375.5,390.18 376,390.23 376.5,390.12 377,390 377.5,389.88 378,389.77 378.5,389.65 379,389.53 379.5,389.42 380,389.3 380.5,389.2 381,389.1 381.5,389 382,388.9 382.5,388.91 383,388.93 383.5,388.94 384,388.96 384.5,388.97 385,388.99 385.5,389 386,389.01 386.5,389.03 387,389.04 387.5,389.06 388,389.07 388.5,389.09 389,389.1 389.5,388.34 390,387.58 390.5,386.81 391,386.05 391.5,385.29 392,384.52 392.5,383.76 393,383 393.5,382.09 394,381.18 394.5,380.26 395,379.35 395.5,378.44 396,377.53 396.5,376.61 397,375.7 397.5,374.79 398,373.88 398.5,372.97 399,372.05 399.5,371.14 400,370.23 400,381.18 399.5,382.02 399,382.86 398.5,383.71 398,384.55 397.5,385.4 397,386.24 396.5,387.09 396,387.93 395.5,388.78 395,389.62 394.5,390.47 394,391.31 393.5,392.16 393,393 392.5,393.89 392,394.77 391.5,395.66 391,396.55 390.5,397.44 390,398.33 389.5,399.21 389,400.1 388.5,400.09 388,400.07 387.5,400.06 387,400.04 386.5,400.03 386,400.01 385.5,400 385,399.99 384.5,399.97 384,399.96 383.5,399.94 383,399.93 382.5,399.91 382,399.9 381.5,400 381,400.1 380.5,400.2 380,400.3 379.5,400.38 379,400.47 378.5,400.55 378,400.63 377.5,400.72 377,400.8 376.5,400.88 376,400.97 375.5,400.88 375,400.78 374.5,400.69 374,400.6 373.5,400.51 373,400.42 372.5,400.32 372,400.23 371.5,400.34 371,400.45 370.5,400.56 370,400.67 369.5,400.77 369,400.88 368.5,400.99 368,401.1 367.5,401.03 367,400.97 366.5,400.9 366,400.83 365.5,400.77 365,400.7 364.5,400.58 364,400.46 363.5,400.62 363,400.78 362.5,400.94 362,401.1 361.5,401.27 361,401.43 360.5,401.86 360,402.29 359.5,402.71 359,403.14 358.5,401.82 358,400.5 357.5,398.75 357,397 356.5,395 356,393 355.5,391 355,389"/>
<line x1="278.6" y1="360.4" x2="400.4" y2="360.4" stroke="#000" stroke-width="1.0" stroke-dasharray="4.7 4.7"/>
<polyline clip-path="url(#c7)" fill="none" stroke="#000" stroke-width="1.95" stroke-linejoin="round" stroke-linecap="butt" points="278.2,353.4 291,356 295,359 300,364 306,358 311,360 315.6,362 317,344 318.6,326.4 323,332 325,328 328,318 332,317.6 334,326 336,343 338,342 340.4,340 342.4,345 344.4,352.4 346,353.6 347,348 348,331 349.4,335 351,364 353,380 355,388 357,394 359,399 361,397 364,395.6 368,396 372,395 376,395.6 382,394.4 389,394.6 393,388 400.4,375"/>
<g stroke="#1a1a1a" stroke-width="1.2" fill="none">
<path d="M278.1 306 V409.5 H400.4 V306"/>
<path d="M274.7 306.6H278.1M274.7 329.95H278.1M274.7 353.3H278.1M274.7 376.65H278.1M274.7 400H278.1M400.4 318H403.8M400.4 342.6H403.8M400.4 367.3H403.8M400.4 392H403.8M279 409.5V412.9M317 409.5V412.9M354.9 409.5V412.9M392.8 409.5V412.9"/>
</g>
<g fill="#4D4D4D" stroke="#4D4D4D" stroke-width="0.22" font-size="12.2">
<text transform="translate(271.9 311.67) matrix(1 0.0005 0 1 0 0)" text-anchor="end">0.08</text>
<text transform="translate(271.9 335.02) matrix(1 0.0005 0 1 0 0)" text-anchor="end">0.06</text>
<text transform="translate(271.9 358.37) matrix(1 0.0005 0 1 0 0)" text-anchor="end">0.04</text>
<text transform="translate(271.9 381.72) matrix(1 0.0005 0 1 0 0)" text-anchor="end">0.02</text>
<text transform="translate(271.9 405.07) matrix(1 0.0005 0 1 0 0)" text-anchor="end">0.00</text>
<text transform="translate(406.9 323.07) matrix(1 0.0005 0 1 0 0)">0.10</text>
<text transform="translate(406.9 347.67) matrix(1 0.0005 0 1 0 0)">0.05</text>
<text transform="translate(406.9 372.37) matrix(1 0.0005 0 1 0 0)">0.00</text>
<text transform="translate(406.9 397.07) matrix(1 0.0005 0 1 0 0)">-0.05</text>
<text transform="translate(279 425.25) matrix(1 0.0005 0 1 0 0)" text-anchor="middle">2800</text>
<text transform="translate(317 425.25) matrix(1 0.0005 0 1 0 0)" text-anchor="middle">3000</text>
<text transform="translate(354.9 425.25) matrix(1 0.0005 0 1 0 0)" text-anchor="middle">3200</text>
<text transform="translate(392.8 425.25) matrix(1 0.0005 0 1 0 0)" text-anchor="middle">3400</text>
</g>
<text transform="translate(339.25 445) matrix(1 0.0005 0 1 0 0)" text-anchor="middle" font-size="13.75" fill="#000" stroke="#000" stroke-width="0.22">Growing degree days</text>
<text transform="translate(242.3 357.75) rotate(-90) matrix(1 0.0005 0 1 0 0)" text-anchor="middle" font-size="12.0" fill="#000" stroke="#000" stroke-width="0.22">Freq</text>
<text transform="translate(443.3 357.75) rotate(90) matrix(1 0.0005 0 1 0 0)" text-anchor="middle" font-size="12.35" fill="#000" stroke="#000" stroke-width="0.22">ALE Area (kha)</text>
</g>
<g>
<clipPath id="c8"><rect x="515.6" y="306" width="126" height="103.5"/></clipPath>
<g fill="#FFA1A1">
<rect x="519.67" y="398.4" width="3.62" height="2"/>
<rect x="523.64" y="399.6" width="3.62" height="0.8"/>
<rect x="527.61" y="398" width="3.62" height="2.4"/>
<rect x="531.57" y="400" width="3.62" height="0.4"/>
<rect x="535.54" y="398" width="3.62" height="2.4"/>
<rect x="539.51" y="396" width="3.62" height="4.4"/>
<rect x="543.47" y="393.6" width="3.62" height="6.8"/>
<rect x="547.44" y="390" width="3.62" height="10.4"/>
<rect x="551.41" y="387" width="3.62" height="13.4"/>
<rect x="555.38" y="374" width="3.62" height="26.4"/>
<rect x="559.34" y="368" width="3.62" height="32.4"/>
<rect x="563.31" y="369" width="3.62" height="31.4"/>
<rect x="567.27" y="363" width="3.62" height="37.4"/>
<rect x="571.24" y="364" width="3.62" height="36.4"/>
<rect x="575.21" y="340.6" width="3.62" height="59.8"/>
<rect x="579.17" y="336.4" width="3.62" height="64"/>
<rect x="583.14" y="340" width="3.62" height="60.4"/>
<rect x="587.11" y="319" width="3.62" height="81.4"/>
<rect x="591.07" y="319" width="3.62" height="81.4"/>
<rect x="595.04" y="316.4" width="3.62" height="84"/>
<rect x="599.01" y="349" width="3.62" height="51.4"/>
<rect x="602.97" y="356" width="3.62" height="44.4"/>
<rect x="606.94" y="355" width="3.62" height="45.4"/>
<rect x="610.91" y="351" width="3.62" height="49.4"/>
<rect x="614.88" y="367" width="3.62" height="33.4"/>
<rect x="618.84" y="379.6" width="3.62" height="20.8"/>
<rect x="622.81" y="385" width="3.62" height="15.4"/>
<rect x="626.77" y="384" width="3.62" height="16.4"/>
<rect x="630.74" y="390" width="3.62" height="10.4"/>
<rect x="634.71" y="398" width="3.62" height="2.4"/>
</g>
<polygon clip-path="url(#c8)" fill="#999999" fill-opacity="0.42" points="515.6,317.6 516.1,317.67 516.6,317.74 517.1,317.81 517.6,317.88 518.1,317.96 518.6,318.03 519.1,318.1 519.6,318.17 520.1,318.24 520.6,318.31 521.1,318.38 521.6,318.45 522.1,318.52 522.6,318.59 523.1,318.67 523.6,318.74 524.1,318.81 524.6,318.88 525.1,318.95 525.6,319.02 526.1,319.09 526.6,319.16 527.1,319.23 527.6,319.3 528.1,319.38 528.6,319.45 529.1,319.52 529.6,319.59 530.1,319.66 530.6,319.73 531.1,319.8 531.6,319.87 532.1,319.94 532.6,320.01 533.1,320.09 533.6,320.16 534.1,320.23 534.6,320.3 535.1,320.37 535.6,320.44 536.1,320.51 536.6,320.58 537.1,320.65 537.6,320.72 538.1,320.8 538.6,320.87 539.1,320.94 539.6,321.01 540.1,321.08 540.6,321.15 541.1,321.22 541.6,321.29 542.1,321.37 542.6,321.69 543.1,322.35 543.6,323.01 544.1,323.67 544.6,324.32 545.1,324.98 545.6,325.64 546.1,326.3 546.6,326.96 547.1,327.62 547.6,328.27 548.1,328.94 548.6,329.65 549.1,330.36 549.6,331.07 550.1,331.77 550.6,332.48 551.1,333.19 551.6,333.9 552.1,334.61 552.6,335.31 553.1,336.03 553.6,337.22 554.1,339.1 554.6,340.99 555.1,342.87 555.6,344.76 556.1,346.64 556.6,348.52 557.1,350.41 557.6,352.29 558.1,353.91 558.6,354.45 559.1,354.98 559.6,355.52 560.1,356.06 560.6,356.6 561.1,357.13 561.6,357.67 562.1,358.21 562.6,358.75 563.1,359.28 563.6,359.82 564.1,360.26 564.6,360.3 565.1,360.33 565.6,360.37 566.1,360.4 566.6,360.4 567.1,360.4 567.6,360.4 568.1,360.4 568.6,360.4 569.1,360.49 569.6,360.93 570.1,361.37 570.6,361.81 571.1,362.25 571.6,362.69 572.1,363.13 572.6,363.57 573.1,364.01 573.6,364.45 574.1,364.93 574.6,365.55 575.1,366.18 575.6,366.8 576.1,367.43 576.6,368.05 577.1,368.68 577.6,369.3 578.1,369.72 578.6,369.32 579.1,368.92 579.6,368.52 580.1,368.31 580.6,368.87 581.1,369.43 581.6,369.99 582.1,370.55 582.6,371.11 583.1,371.67 583.6,372.23 584.1,372.79 584.6,373.35 585.1,373.77 585.6,373.6 586.1,373.43 586.6,373.27 587.1,373.1 587.6,372.93 588.1,372.88 588.6,373.28 589.1,373.68 589.6,374.08 590.1,374.12 590.6,372.72 591.1,371.32 591.6,369.92 592.1,368.93 592.6,369.55 593.1,370.18 593.6,370.8 594.1,366.91 594.6,363.02 595.1,359.13 595.6,360.6 596.1,370.1 596.6,375.68 597.1,375.36 597.6,375.05 598.1,375.09 598.6,376.54 599.1,377.99 599.6,379.44 600.1,380.88 600.6,382.28 601.1,383.68 601.6,385.08 602.1,386.16 602.6,385.96 603.1,385.76 603.6,385.56 604.1,385.36 604.6,385.16 605.1,384.96 605.6,384.76 606.1,384.77 606.6,385.64 607.1,386.51 607.6,387.37 608.1,388.11 608.6,388.31 609.1,388.51 609.6,388.71 610.1,388.91 610.6,389.11 611.1,389.35 611.6,389.75 612.1,390.12 612.6,390.39 613.1,390.66 613.6,390.93 614.1,391.27 614.6,391.88 615.1,392.48 615.6,393.08 616.1,393.7 616.6,394.35 617.1,394.89 617.6,394.94 618.1,394.99 618.6,395.05 619.1,395.1 619.6,395.16 620.1,395.19 620.6,395.13 621.1,395.07 621.6,395.01 622.1,394.95 622.6,394.89 623.1,394.83 623.6,394.77 624.1,394.69 624.6,394.53 625.1,394.37 625.6,394.21 626.1,394.05 626.6,393.89 627.1,393.73 627.6,393.57 628.1,393.41 628.6,393.25 629.1,393.09 629.6,392.93 630.1,392.8 630.6,392.8 631.1,392.8 631.6,392.8 632.1,392.8 632.6,392.8 633.1,392.8 633.6,392.8 634.1,392.8 634.6,392.8 635.1,392.8 635.6,392.8 636.1,392.8 636.6,392.8 637.1,392.8 637.6,392.8 638.1,392.8 638.6,392.8 639.1,392.8 639.6,392.8 640.1,392.8 640.6,392.8 641.1,392.8 641.6,392.8 641.6,402 641.1,402 640.6,402 640.1,402 639.6,402 639.1,402 638.6,402 638.1,402 637.6,402 637.1,402 636.6,402 636.1,402 635.6,402 635.1,402 634.6,402 634.1,402 633.6,402 633.1,402 632.6,402 632.1,402 631.6,402 631.1,402 630.6,402 630.1,402 629.6,402.11 629.1,402.25 628.6,402.39 628.1,402.53 627.6,402.67 627.1,402.81 626.6,402.95 626.1,403.09 625.6,403.23 625.1,403.37 624.6,403.51 624.1,403.65 623.6,403.71 623.1,403.75 622.6,403.79 622.1,403.83 621.6,403.87 621.1,403.91 620.6,403.95 620.1,403.99 619.6,403.78 619.1,403.5 618.6,403.22 618.1,402.94 617.6,402.66 617.1,402.38 616.6,401.62 616.1,400.74 615.6,399.82 615.1,398.89 614.6,397.97 614.1,397.04 613.6,396.37 613.1,395.78 612.6,395.18 612.1,394.59 611.6,394.09 611.1,393.63 610.6,393.32 610.1,393.05 609.6,392.79 609.1,392.52 608.6,392.25 608.1,391.99 607.6,391.19 607.1,390.25 606.6,389.32 606.1,388.39 605.6,388.28 605.1,388.38 604.6,388.48 604.1,388.58 603.6,388.68 603.1,388.78 602.6,388.88 602.1,388.98 601.6,387.8 601.1,386.3 600.6,384.8 600.1,383.3 599.6,381.84 599.1,380.39 598.6,378.94 598.1,377.49 597.6,377.45 597.1,377.76 596.6,378.07 596.1,372.5 595.6,363 595.1,361.53 594.6,365.42 594.1,369.31 593.6,373.2 593.1,372.57 592.6,371.95 592.1,371.32 591.6,372.32 591.1,373.72 590.6,375.12 590.1,376.52 589.6,376.48 589.1,376.08 588.6,375.68 588.1,375.28 587.6,375.33 587.1,375.5 586.6,375.67 586.1,375.83 585.6,376 585.1,376.17 584.6,375.75 584.1,375.19 583.6,374.63 583.1,374.07 582.6,373.51 582.1,372.95 581.6,372.39 581.1,371.83 580.6,371.27 580.1,370.71 579.6,370.92 579.1,371.32 578.6,371.72 578.1,372.12 577.6,371.7 577.1,371.07 576.6,370.45 576.1,369.82 575.6,369.2 575.1,368.57 574.6,367.95 574.1,367.32 573.6,366.85 573.1,366.41 572.6,365.97 572.1,365.53 571.6,365.09 571.1,364.65 570.6,364.21 570.1,363.77 569.6,363.33 569.1,362.89 568.6,362.8 568.1,362.8 567.6,362.8 567.1,362.8 566.6,362.8 566.1,362.8 565.6,362.83 565.1,362.87 564.6,362.91 564.1,362.94 563.6,362.58 563.1,362.12 562.6,361.66 562.1,361.19 561.6,360.73 561.1,360.27 560.6,359.81 560.1,359.34 559.6,358.88 559.1,358.42 558.6,357.96 558.1,357.49 557.6,356.02 557.1,354.3 556.6,352.57 556.1,350.85 555.6,349.12 555.1,347.4 554.6,345.67 554.1,343.95 553.6,342.23 553.1,341.2 552.6,340.61 552.1,340.02 551.6,339.43 551.1,338.85 550.6,338.26 550.1,337.67 549.6,337.08 549.1,336.49 548.6,335.91 548.1,335.32 547.6,334.73 547.1,334.14 546.6,333.54 546.1,332.95 545.6,332.36 545.1,331.77 544.6,331.18 544.1,330.59 543.6,329.99 543.1,329.4 542.6,328.81 542.1,328.56 541.6,328.5 541.1,328.45 540.6,328.39 540.1,328.34 539.6,328.28 539.1,328.23 538.6,328.17 538.1,328.11 537.6,328.06 537.1,328 536.6,327.95 536.1,327.89 535.6,327.83 535.1,327.78 534.6,327.72 534.1,327.67 533.6,327.61 533.1,327.55 532.6,327.5 532.1,327.44 531.6,327.39 531.1,327.33 530.6,327.28 530.1,327.22 529.6,327.16 529.1,327.11 528.6,327.05 528.1,327 527.6,326.94 527.1,326.88 526.6,326.83 526.1,326.77 525.6,326.72 525.1,326.66 524.6,326.61 524.1,326.55 523.6,326.49 523.1,326.44 522.6,326.38 522.1,326.33 521.6,326.27 521.1,326.21 520.6,326.16 520.1,326.1 519.6,326.05 519.1,325.99 518.6,325.94 518.1,325.88 517.6,325.82 517.1,325.77 516.6,325.71 516.1,325.66 515.6,325.6"/>
<line x1="520.8" y1="374.4" x2="641.6" y2="374.4" stroke="#000" stroke-width="1.0" stroke-dasharray="4.7 4.7"/>
<polyline clip-path="url(#c8)" fill="none" stroke="#000" stroke-width="1.95" stroke-linejoin="round" stroke-linecap="butt" points="515.6,321.6 542.4,325 548,332 553.4,339 558,355.6 564,361.6 569,361.6 574,366 578,371 580,369.4 585,375 588,374 590,375.6 592,370 593.6,372 595.4,358 596.4,377 598,376 602,387.6 606,386.4 608,390 611,391.4 614,394 617,398.6 620,399.6 624,399.2 630,397.4 641.6,397.4"/>
<g stroke="#1a1a1a" stroke-width="1.2" fill="none">
<path d="M515.6 306 V409.5 H641.6 V306"/>
<path d="M512.2 306.6H515.6M512.2 330.05H515.6M512.2 353.5H515.6M512.2 376.95H515.6M512.2 400.4H515.6M641.6 334.6H645M641.6 374.4H645M520.6 409.5V412.9M554.7 409.5V412.9M588.8 409.5V412.9M622.9 409.5V412.9"/>
</g>
<g fill="#4D4D4D" stroke="#4D4D4D" stroke-width="0.22" font-size="12.2">
<text transform="translate(509.4 311.67) matrix(1 0.0005 0 1 0 0)" text-anchor="end">0.100</text>
<text transform="translate(509.4 335.12) matrix(1 0.0005 0 1 0 0)" text-anchor="end">0.075</text>
<text transform="translate(509.4 358.57) matrix(1 0.0005 0 1 0 0)" text-anchor="end">0.050</text>
<text transform="translate(509.4 382.02) matrix(1 0.0005 0 1 0 0)" text-anchor="end">0.025</text>
<text transform="translate(509.4 405.47) matrix(1 0.0005 0 1 0 0)" text-anchor="end">0.000</text>
<text transform="translate(648.1 339.67) matrix(1 0.0005 0 1 0 0)">0.1</text>
<text transform="translate(648.1 379.47) matrix(1 0.0005 0 1 0 0)">0.0</text>
<text transform="translate(520.6 425.25) matrix(1 0.0005 0 1 0 0)" text-anchor="middle">-40</text>
<text transform="translate(554.7 425.25) matrix(1 0.0005 0 1 0 0)" text-anchor="middle">-20</text>
<text transform="translate(588.8 425.25) matrix(1 0.0005 0 1 0 0)" text-anchor="middle">0</text>
<text transform="translate(622.9 425.25) matrix(1 0.0005 0 1 0 0)" text-anchor="middle">20</text>
</g>
<text transform="translate(578.6 445) matrix(1 0.0005 0 1 0 0)" text-anchor="middle" font-size="13.75" fill="#000" stroke="#000" stroke-width="0.22">Onset deviation (days)</text>
<text transform="translate(472.3 357.75) rotate(-90) matrix(1 0.0005 0 1 0 0)" text-anchor="middle" font-size="12.0" fill="#000" stroke="#000" stroke-width="0.22">Freq</text>
<text transform="translate(674 357.75) rotate(90) matrix(1 0.0005 0 1 0 0)" text-anchor="middle" font-size="12.35" fill="#000" stroke="#000" stroke-width="0.22">ALE Area (kha)</text>
</g>
</svg>
</body>
</html>
